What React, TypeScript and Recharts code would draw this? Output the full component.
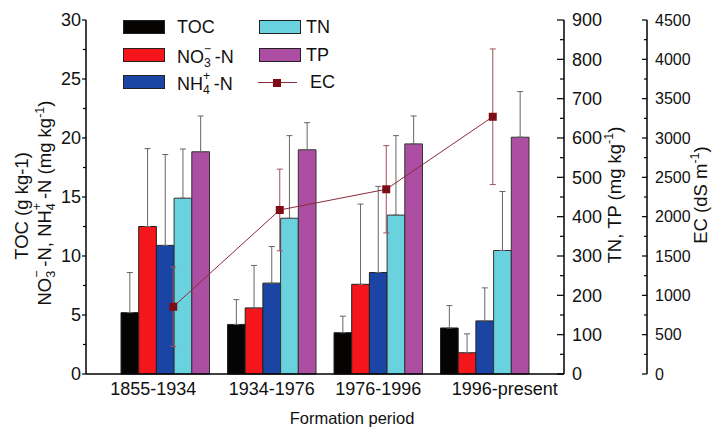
import { ComposedChart, Bar, Line, XAxis, YAxis, ErrorBar } from 'recharts';

const periods = ['1855-1934', '1934-1976', '1976-1996', '1996-present'];

// left axis (g kg-1 / mg kg-1)
const toc = [5.2, 4.2, 3.5, 3.9];
const tocErr = [3.4, 2.1, 1.4, 1.9];
const no3 = [12.5, 5.6, 7.6, 1.8];
const no3Err = [6.6, 3.6, 6.8, 1.6];
const nh4 = [10.9, 7.7, 8.6, 4.5];
const nh4Err = [7.7, 3.1, 7.3, 2.8];

// right axis 1 (mg kg-1)
const tn = [447, 396, 404, 314];
const tnErr = [125, 210, 202, 150];
const tp = [565, 570, 585, 602];
const tpErr = [91, 69, 71, 116];

// right axis 2 (dS m-1)
const ec = [855, 2085, 2348, 3270];
const ecErr = [505, 519, 555, 862];

const leftTicks = [0, 2.5, 5, 7.5, 10, 12.5, 15, 17.5, 20, 22.5, 25, 27.5, 30];
const tnTicks = [0, 50, 100, 150, 200, 250, 300, 350, 400, 450, 500, 550, 600, 650, 700, 750, 800, 850, 900];
const ecTicks = [0, 250, 500, 750, 1000, 1250, 1500, 1750, 2000, 2250, 2500, 2750, 3000, 3250, 3500, 3750, 4000, 4250, 4500];

const data = periods.map((p, i) => ({
  period: p,
  toc: toc[i], tocErr: [0, tocErr[i]],
  no3: no3[i], no3Err: [0, no3Err[i]],
  nh4: nh4[i], nh4Err: [0, nh4Err[i]],
  tn: tn[i], tnErr: [0, tnErr[i]],
  tp: tp[i], tpErr: [0, tpErr[i]],
  ec: ec[i], ecErr: ecErr[i],
}));

const FONT = '"Liberation Sans", Arial, sans-serif';
const LABEL_SHIFT = [-12, 0, 0, 20];

const LeftTick = (props: any) => {
  const { x, y, payload } = props;
  const major = payload.value % 5 === 0;
  return (
    <g>
      <line x1={x - (major ? 4 : 3)} x2={x} y1={y} y2={y} stroke="#000" strokeWidth={1.2} />
      {major && (
        <text x={x - 5} y={y} dy="0.36em" textAnchor="end" fontSize={18} fontFamily={FONT} fill="#111">
          {payload.value}
        </text>
      )}
    </g>
  );
};

const makeRightTick = (step: number, majorLen: number, minorLen: number, size: number) => (props: any) => {
  const { x, y, payload } = props;
  const major = payload.value % step === 0;
  return (
    <g>
      <line x1={x - (major ? majorLen : minorLen)} x2={x} y1={y} y2={y} stroke="#000" strokeWidth={1.2} />
      {major && (
        <text x={x + 8} y={y} dy="0.36em" textAnchor="start" fontSize={size} fontFamily={FONT} fill="#111">
          {payload.value}
        </text>
      )}
    </g>
  );
};

const TnTick = makeRightTick(100, 7, 4, 18);
const EcTick = makeRightTick(500, 5, 3, 16);

const PeriodTick = (props: any) => {
  const { x, y, payload, index } = props;
  return (
    <text x={x + (LABEL_SHIFT[index] || 0)} y={y + 21} textAnchor="middle" fontSize={18} fontFamily={FONT} fill="#111">
      {payload.value}
    </text>
  );
};

const SquareDot = (props: any) => {
  const { cx, cy } = props;
  if (cx == null || cy == null) return null;
  return <rect x={cx - 4} y={cy - 4} width={8} height={8} fill="#7d0c14" />;
};

const Stack = ({ sup, sub }: { sup: string; sub: string }) => (
  <span style={{ display: 'inline-block', position: 'relative', width: '0.6em', height: '1em' }}>
    <span style={{ position: 'absolute', left: 0, top: -2, fontSize: '0.68em', lineHeight: 1 }}>{sup}</span>
    <span style={{ position: 'absolute', left: 0, top: 12, fontSize: '0.68em', lineHeight: 1 }}>{sub}</span>
  </span>
);

const Sup = ({ children }: { children: string }) => (
  <span style={{ fontSize: '0.68em', position: 'relative', top: '-0.6em' }}>{children}</span>
);

const swatch = (left: number, top: number, color: string) => (
  <div style={{ position: 'absolute', left, top, width: 42, height: 14, background: color, border: '1px solid #222', boxSizing: 'border-box' }} />
);

const legendText: any = { position: 'absolute', fontSize: 18, lineHeight: '20px', color: '#111' };

const rotated = (cx: number, cy: number): any => ({
  position: 'absolute', left: cx, top: cy, transform: 'translate(-50%, -50%) rotate(-90deg)',
  whiteSpace: 'nowrap', fontSize: 18.5, lineHeight: '20px', color: '#111',
});

export default function App() {
  return (
    <div style={{ position: 'absolute', left: 0, top: 0, width: 712, height: 427, background: '#fff', fontFamily: FONT }}>
      <ComposedChart width={712} height={427} data={data} barGap={0} barSize={17.7}
        margin={{ top: 20, right: 0, bottom: 0, left: 0 }}>
        <XAxis dataKey="period" height={53} padding={{ left: 26, right: 26 }} tickLine={false}
          tickSize={0} tickMargin={0} tick={<PeriodTick />} axisLine={{ stroke: '#000', strokeWidth: 1.5 }} interval={0} />
        <XAxis xAxisId="ecx" dataKey="period" hide padding={{ left: 34, right: 18 }} />
        <YAxis yAxisId="a_left" width={86} domain={[0, 30]} ticks={leftTicks} interval={0} tickLine={false}
          tickSize={0} tickMargin={0} tick={<LeftTick />} axisLine={{ stroke: '#000', strokeWidth: 1.5 }} />
        <YAxis yAxisId="r1" orientation="right" width={83} domain={[0, 900]} ticks={tnTicks} interval={0} tickLine={false}
          tickSize={0} tickMargin={0} tick={<TnTick />} axisLine={{ stroke: '#000', strokeWidth: 1.5 }} />
        <YAxis yAxisId="r2" orientation="right" width={65} domain={[0, 4500]} ticks={ecTicks} interval={0} tickLine={false}
          tickSize={0} tickMargin={0} tick={<EcTick />} axisLine={{ stroke: '#000', strokeWidth: 1.5 }} />

        <Bar yAxisId="a_left" dataKey="toc" fill="#060303" stroke="#222" strokeWidth={1} isAnimationActive={false}>
          <ErrorBar dataKey="tocErr" direction="y" stroke="#666" strokeWidth={1} width={3} />
        </Bar>
        <Bar yAxisId="a_left" dataKey="no3" fill="#f5161b" stroke="#222" strokeWidth={1} isAnimationActive={false}>
          <ErrorBar dataKey="no3Err" direction="y" stroke="#666" strokeWidth={1} width={3} />
        </Bar>
        <Bar yAxisId="a_left" dataKey="nh4" fill="#1b45a5" stroke="#222" strokeWidth={1} isAnimationActive={false}>
          <ErrorBar dataKey="nh4Err" direction="y" stroke="#666" strokeWidth={1} width={3} />
        </Bar>
        <Bar yAxisId="r1" dataKey="tn" fill="#6ad2df" stroke="#333" strokeWidth={1} isAnimationActive={false}>
          <ErrorBar dataKey="tnErr" direction="y" stroke="#666" strokeWidth={1} width={3} />
        </Bar>
        <Bar yAxisId="r1" dataKey="tp" fill="#ac4ea2" stroke="#333" strokeWidth={1} isAnimationActive={false}>
          <ErrorBar dataKey="tpErr" direction="y" stroke="#666" strokeWidth={1} width={3} />
        </Bar>
        <Line yAxisId="r2" xAxisId="ecx" dataKey="ec" stroke="#8c2b3b" strokeWidth={1} dot={<SquareDot />}
          activeDot={false} isAnimationActive={false}>
          <ErrorBar dataKey="ecErr" direction="y" stroke="#a0505a" strokeWidth={1} width={3} />
        </Line>
      </ComposedChart>

      {/* legend */}
      {swatch(123, 20, '#060303')}
      <div style={{ ...legendText, left: 177, top: 17 }}>TOC</div>
      {swatch(123, 48, '#f5161b')}
      <div style={{ ...legendText, left: 177, top: 45 }}>NO<Stack sup="−" sub="3" />-N</div>
      {swatch(123, 75, '#1b45a5')}
      <div style={{ ...legendText, left: 177, top: 72 }}>NH<Stack sup="+" sub="4" />-N</div>
      {swatch(259, 20, '#6ad2df')}
      <div style={{ ...legendText, left: 306, top: 17 }}>TN</div>
      {swatch(259, 48, '#ac4ea2')}
      <div style={{ ...legendText, left: 306, top: 45 }}>TP</div>
      <div style={{ position: 'absolute', left: 258, top: 82, width: 39, height: 1, background: '#8c2b3b' }} />
      <div style={{ position: 'absolute', left: 273, top: 79, width: 8, height: 8, background: '#7d0c14' }} />
      <div style={{ ...legendText, left: 310, top: 72 }}>EC</div>

      {/* axis titles */}
      <div style={rotated(22, 206)}>TOC (g kg-1)</div>
      <div style={rotated(45, 203)}>NO<Stack sup="−" sub="3" />-N, NH<Stack sup="+" sub="4" />-N (mg kg<Sup>-1</Sup>)</div>
      <div style={rotated(616, 195)}>TN, TP (mg kg<Sup>-1</Sup>)</div>
      <div style={rotated(702, 195)}>EC (dS m<Sup>-1</Sup>)</div>
      <div style={{ position: 'absolute', left: 352, top: 418, transform: 'translate(-50%, -50%)', whiteSpace: 'nowrap', fontSize: 16.5, color: '#111' }}>
        Formation period
      </div>
    </div>
  );
}
